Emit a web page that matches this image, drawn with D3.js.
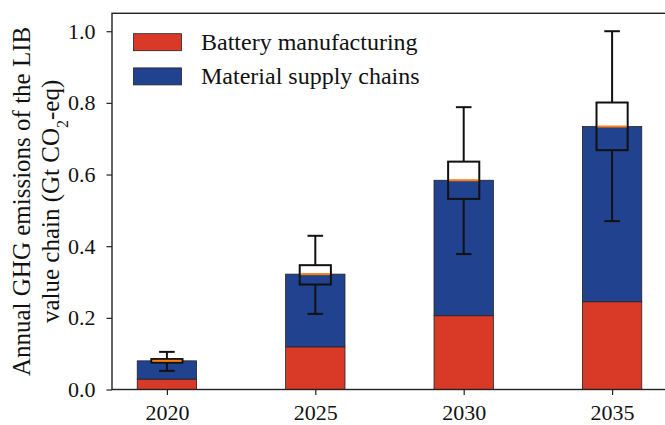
<!DOCTYPE html>
<html>
<head>
<meta charset="utf-8">
<script src="https://cdn.jsdelivr.net/npm/d3@7"></script>
<style>
  html, body { margin: 0; padding: 0; background: #fff; }
  svg { display: block; }
  text { font-family: "Liberation Serif", "Times New Roman", serif; fill: #111; }
</style>
</head>
<body>
<svg id="chart" width="665" height="425"></svg>
<script>
// Years shown on the x axis
const years = ["2020", "2025", "2030", "2035"];
// Stacked bar components (Gt CO2-eq)
const batteryManufacturing = [0.029, 0.119, 0.206, 0.245];
const materialSupplyChains = [0.051, 0.203, 0.378, 0.489];
// Uncertainty boxes around the total
const boxLow = [0.075, 0.293, 0.532, 0.668];
const boxHigh = [0.085, 0.347, 0.636, 0.801];
const whiskerLow = [0.052, 0.211, 0.378, 0.470];
const whiskerHigh = [0.105, 0.429, 0.788, 1.0];
const yTicks = [0.0, 0.2, 0.4, 0.6, 0.8, 1.0];
const seriesNames = ["Battery manufacturing", "Material supply chains"];
const seriesColors = ["#d93a28", "#21428f"];

const svg = d3.select("#chart");
const plotLeft = 112, plotRight = 667, plotTop = 13.3, plotBottom = 389.5;

const x = d3.scaleLinear().domain([-0.37, 3.37]).range([plotLeft, plotRight]);
const y = d3.scaleLinear().domain([0, 1.05]).range([plotBottom, plotTop]);

const barW = 0.4, boxW = 0.21;
const idx = years.map((_, i) => i);
const totals = idx.map(i => batteryManufacturing[i] + materialSupplyChains[i]);

const plot = svg.append("g");

// Stacked bars
plot.selectAll("rect.bm").data(idx).join("rect")
  .attr("x", i => x(i - barW / 2))
  .attr("width", x(barW) - x(0))
  .attr("y", i => y(batteryManufacturing[i]))
  .attr("height", i => y(0) - y(batteryManufacturing[i]))
  .attr("fill", seriesColors[0])
  .attr("stroke", "#222").attr("stroke-width", 0.8);

plot.selectAll("rect.ms").data(idx).join("rect")
  .attr("x", i => x(i - barW / 2))
  .attr("width", x(barW) - x(0))
  .attr("y", i => y(totals[i]))
  .attr("height", i => y(batteryManufacturing[i]) - y(totals[i]))
  .attr("fill", seriesColors[1])
  .attr("stroke", "#222").attr("stroke-width", 0.8);

// Box plots
const bx = plot.selectAll("g.box").data(idx).join("g");
bx.append("line")
  .attr("x1", i => x(i)).attr("x2", i => x(i))
  .attr("y1", i => y(boxHigh[i])).attr("y2", i => y(whiskerHigh[i]))
  .attr("stroke", "#111").attr("stroke-width", 2);
bx.append("line")
  .attr("x1", i => x(i)).attr("x2", i => x(i))
  .attr("y1", i => y(boxLow[i])).attr("y2", i => y(whiskerLow[i]))
  .attr("stroke", "#111").attr("stroke-width", 2);
bx.append("line")
  .attr("x1", i => x(i - boxW / 4)).attr("x2", i => x(i + boxW / 4))
  .attr("y1", i => y(whiskerHigh[i])).attr("y2", i => y(whiskerHigh[i]))
  .attr("stroke", "#111").attr("stroke-width", 2);
bx.append("line")
  .attr("x1", i => x(i - boxW / 4)).attr("x2", i => x(i + boxW / 4))
  .attr("y1", i => y(whiskerLow[i])).attr("y2", i => y(whiskerLow[i]))
  .attr("stroke", "#111").attr("stroke-width", 2);
bx.append("rect")
  .attr("x", i => x(i - boxW / 2))
  .attr("width", x(boxW) - x(0))
  .attr("y", i => y(boxHigh[i]))
  .attr("height", i => y(boxLow[i]) - y(boxHigh[i]))
  .attr("fill", "none").attr("stroke", "#111").attr("stroke-width", 2);
bx.append("line")
  .attr("x1", i => x(i - boxW / 2) + 1).attr("x2", i => x(i + boxW / 2) - 1)
  .attr("y1", i => y(totals[i])).attr("y2", i => y(totals[i]))
  .attr("stroke", "#ff7f0e").attr("stroke-width", 2);

// Axes
const tickFs = "22px";
const xAxis = d3.axisBottom(x).tickValues(idx).tickFormat(i => years[i]).tickSize(5.5).tickPadding(9);
const gx = svg.append("g").attr("transform", `translate(0,${plotBottom})`).call(xAxis);
gx.select(".domain").remove();
gx.selectAll("text").style("font-size", tickFs).style("font-family", "Liberation Serif").attr("fill", "#111");
gx.selectAll("line").attr("stroke", "#222").attr("stroke-width", 1.2);

const yAxis = d3.axisLeft(y).tickValues(yTicks).tickFormat(d3.format(".1f")).tickSize(5.5).tickPadding(11);
const gy = svg.append("g").attr("transform", `translate(${plotLeft},0)`).call(yAxis);
gy.select(".domain").remove();
gy.selectAll("text").style("font-size", tickFs).style("font-family", "Liberation Serif").attr("fill", "#111");
gy.selectAll("line").attr("stroke", "#222").attr("stroke-width", 1.2);

// Frame
svg.append("rect")
  .attr("x", plotLeft).attr("y", plotTop)
  .attr("width", plotRight - plotLeft).attr("height", plotBottom - plotTop)
  .attr("fill", "none").attr("stroke", "#222").attr("stroke-width", 1.4);

// Y axis title
const yt = svg.append("text")
  .attr("transform", `translate(30,${(plotTop + plotBottom) / 2}) rotate(-90)`)
  .attr("text-anchor", "middle")
  .style("font-size", "25px");
yt.append("tspan").attr("x", 0).attr("dy", 0).text("Annual GHG emissions of the LIB");
const l2 = yt.append("tspan").attr("x", 0).attr("dy", 28.5);
l2.append("tspan").text("value chain (Gt CO");
l2.append("tspan").attr("baseline-shift", "sub").style("font-size", "16px").text("2");
l2.append("tspan").text("-eq)");

// Legend
const lg = svg.append("g");
seriesNames.forEach((name, k) => {
  const cy = 42.2 + k * 34.2;
  lg.append("rect").attr("x", 133.5).attr("y", cy - 8.5).attr("width", 48).attr("height", 17)
    .attr("fill", seriesColors[k]).attr("stroke", "#222").attr("stroke-width", 0.8);
  lg.append("text").attr("x", 201).attr("y", cy + 8).style("font-size", "24px").text(name);
});
</script>
</body>
</html>
